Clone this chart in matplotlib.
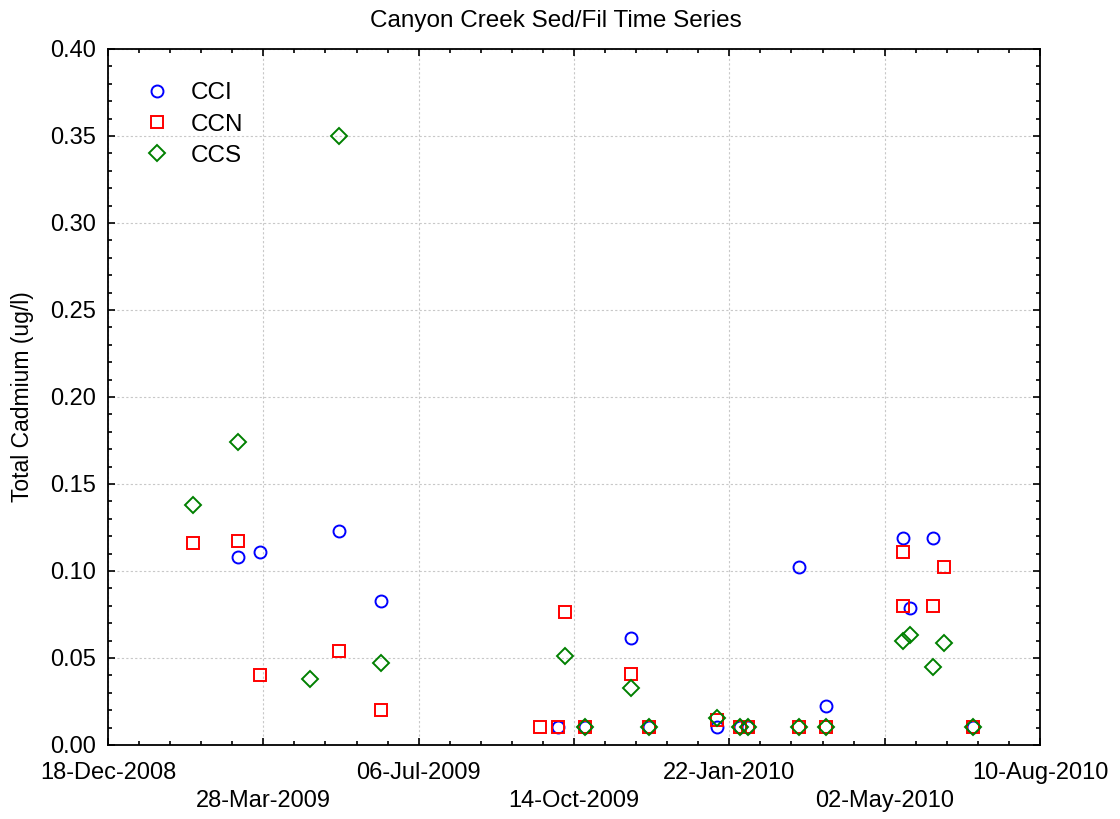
import numpy as np
import matplotlib
matplotlib.use('Agg')
import matplotlib.pyplot as plt
import matplotlib.dates as mdates
from matplotlib.ticker import FixedLocator, MultipleLocator, FormatStrFormatter

plt.rcParams['font.family'] = ['Liberation Sans', 'DejaVu Sans']

# sample dates and total cadmium (ug/l) per site
cci_dates = ['2009-03-12', '2009-03-26', '2009-05-16', '2009-06-12', '2009-10-04',
             '2009-10-21', '2009-11-20', '2009-12-01', '2010-01-14', '2010-01-29',
             '2010-02-03', '2010-03-08', '2010-03-25', '2010-05-14', '2010-05-18',
             '2010-06-02', '2010-06-28']
cci_vals = [0.108, 0.111, 0.123, 0.083, 0.0105,
            0.0105, 0.0615, 0.0105, 0.0105, 0.0105,
            0.0105, 0.102, 0.0225, 0.119, 0.079,
            0.119, 0.0105]

ccn_dates = ['2009-02-11', '2009-03-12', '2009-03-26', '2009-05-16', '2009-06-12',
             '2009-09-22', '2009-10-04', '2009-10-08', '2009-10-21', '2009-11-20',
             '2009-12-01', '2010-01-14', '2010-01-29', '2010-02-03', '2010-03-08',
             '2010-03-25', '2010-05-14', '2010-05-14', '2010-06-02', '2010-06-09',
             '2010-06-28']
ccn_vals = [0.116, 0.117, 0.040, 0.054, 0.020,
            0.0105, 0.0105, 0.0767, 0.0105, 0.041,
            0.0105, 0.0144, 0.0105, 0.0105, 0.0105,
            0.0105, 0.111, 0.080, 0.080, 0.102,
            0.0105]

ccs_dates = ['2009-02-11', '2009-03-12', '2009-04-27', '2009-05-16', '2009-06-12',
             '2009-10-08', '2009-10-21', '2009-11-20', '2009-12-01', '2010-01-14',
             '2010-01-29', '2010-02-03', '2010-03-08', '2010-03-25', '2010-05-14',
             '2010-05-18', '2010-06-02', '2010-06-09', '2010-06-28']
ccs_vals = [0.138, 0.174, 0.038, 0.350, 0.047,
            0.051, 0.0105, 0.033, 0.0105, 0.0156,
            0.0105, 0.0105, 0.0105, 0.0105, 0.060,
            0.0634, 0.045, 0.0586, 0.0105]

x_start, x_end = '2008-12-18', '2010-08-10'


def to_num(ds):
    return mdates.datestr2num(ds)


fig = plt.figure(figsize=(11.2, 8.19), dpi=100)
ax = fig.add_axes([0.0964, 0.0904, 0.8322, 0.8498])

ax.plot(to_num(cci_dates), cci_vals, 'o', ms=8.6, mfc='none', mec='#0000ff', mew=1.4, label='CCI')
ax.plot(to_num(ccn_dates), ccn_vals, 's', ms=8.0, mfc='none', mec='#ff0000', mew=1.4, label='CCN')
ax.plot(to_num(ccs_dates), ccs_vals, 'D', ms=7.8, mfc='none', mec='#008000', mew=1.4, label='CCS')

x0, x1 = to_num(x_start), to_num(x_end)
ax.set_xlim(x0, x1)
ax.set_ylim(0, 0.40)

majors = np.arange(x0, x1 + 1, 100)
ax.xaxis.set_major_locator(FixedLocator(majors))
ax.xaxis.set_minor_locator(FixedLocator(np.arange(x0, x1 + 1, 20)))
labels = [mdates.num2date(d).strftime('%d-%b-%Y') for d in majors]
labels = [lab if i % 2 == 0 else '\n' + lab for i, lab in enumerate(labels)]
ax.set_xticklabels(labels, fontsize=17, linespacing=1.4)

ax.yaxis.set_major_locator(MultipleLocator(0.05))
ax.yaxis.set_minor_locator(MultipleLocator(0.01))
ax.yaxis.set_major_formatter(FormatStrFormatter('%.2f'))
for lab in ax.get_yticklabels():
    lab.set_fontsize(17)

ax.tick_params(which='both', direction='in', top=True, right=True, width=1.2)
ax.tick_params(which='major', length=5)
ax.tick_params(which='minor', length=3)
ax.tick_params(axis='y', which='major', pad=8.5)
ax.tick_params(axis='x', which='major', pad=12)
for sp in ax.spines.values():
    sp.set_linewidth(1.3)

ax.grid(True, which='major', linestyle=(0, (2, 2)), color='#c8c8c8', linewidth=0.8)

ax.set_title('Canyon Creek Sed/Fil Time Series', fontsize=17.5, pad=16, x=0.481)
ax.set_ylabel('Total Cadmium (ug/l)', fontsize=16.5, labelpad=12)

ax.legend(loc='upper left', frameon=False, fontsize=17.5, handletextpad=0.4,
          labelspacing=0.375, borderaxespad=0, bbox_to_anchor=(0.016, 0.966))

fig.savefig('out.png', dpi=100)
